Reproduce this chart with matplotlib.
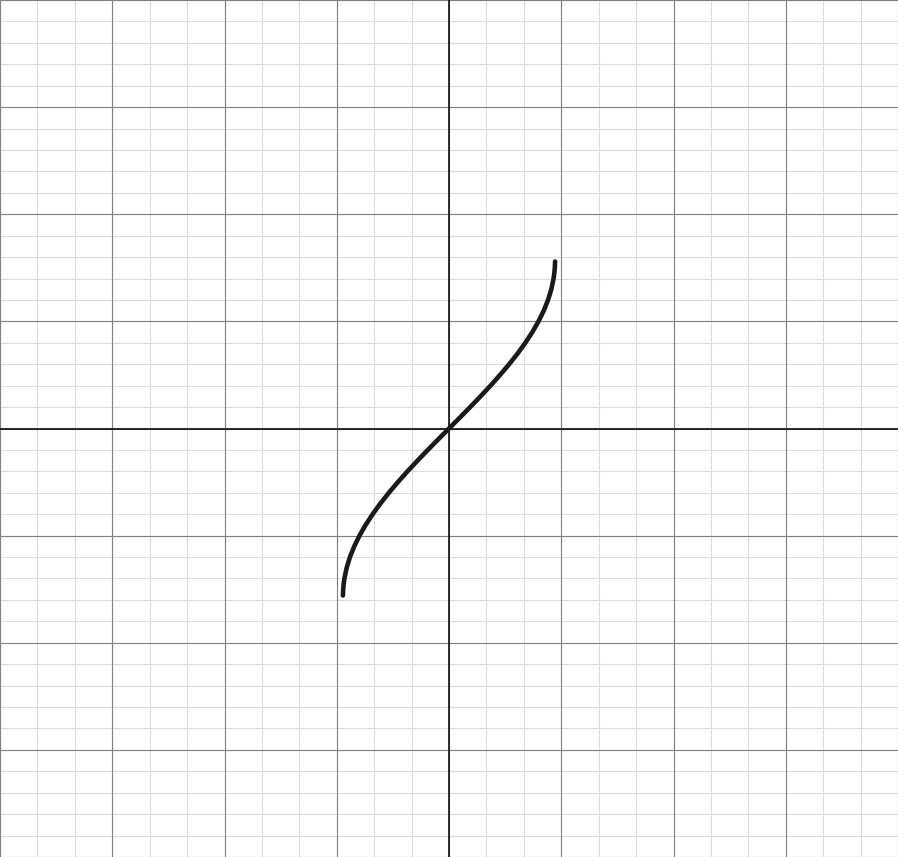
import matplotlib
matplotlib.use('Agg')
import matplotlib.pyplot as plt
import numpy as np

# curve points (grid units: 1 major square = 1)
y_vals = [0.0, 0.1, 0.2, 0.3, 0.4, 0.5, 0.6, 0.7, 0.8, 0.9, 1.0, 1.1,
          1.2, 1.3, 1.4, 1.45, 1.5, 1.53, 1.559]
x_vals = [0.0, 0.0948, 0.1887, 0.2806, 0.3697, 0.4550, 0.5359, 0.6112,
          0.6802, 0.7426, 0.7973, 0.8441, 0.8825, 0.9117, 0.9318, 0.9383,
          0.9425, 0.9438, 0.9450]

# mirror to the lower half (odd curve)
xs = [-v for v in x_vals[:0:-1]] + x_vals
ys = [-v for v in y_vals[:0:-1]] + y_vals

x_limits = (-4, 4)
y_limits = (-4, 4)

fig = plt.figure(figsize=(8.98, 8.57), dpi=100)
ax = fig.add_axes([0, 0, 1, 1])
ax.set_xlim(*x_limits)
ax.set_ylim(*y_limits)

# minor grid: 3 per major in x, 5 per major in y
for xv in np.arange(-4, 4.01, 1 / 3):
    ax.axvline(xv, color='#dcdcdc', lw=0.8, zorder=1)
for yv in np.arange(-4, 4.01, 0.2):
    ax.axhline(yv, color='#dcdcdc', lw=0.8, zorder=1)
# major grid
for xv in range(-4, 5):
    ax.axvline(xv, color='#808080', lw=0.8, zorder=2)
for yv in range(-4, 5):
    ax.axhline(yv, color='#808080', lw=0.8, zorder=2)

# axes
ax.axhline(0, color='#111111', lw=1.2, zorder=3)
ax.axvline(0, color='#111111', lw=1.2, zorder=3)

ax.plot(xs, ys, color='#1a1a1a', lw=3.3, solid_capstyle='round',
        solid_joinstyle='round', zorder=4)

for s in ax.spines.values():
    s.set_visible(False)
ax.set_xticks([])
ax.set_yticks([])

fig.savefig('out.png', dpi=100)
